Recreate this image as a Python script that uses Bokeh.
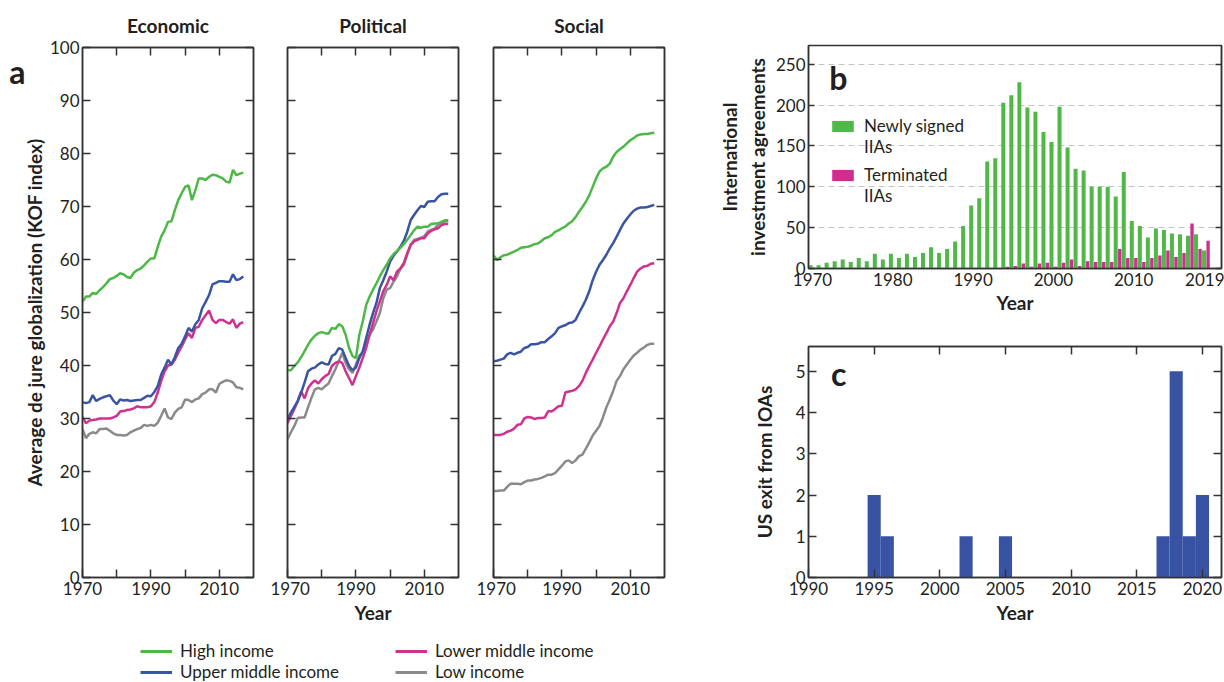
from bokeh.plotting import figure
from bokeh.models import (Range1d, LinearAxis, FixedTicker, Legend, LegendItem, Grid, Label,
                          ColumnDataSource, CustomJSTickFormatter, GlobalInlineStyleSheet)
from bokeh.layouts import row, column
from bokeh.transform import dodge
from bokeh.embed import file_html
from bokeh.resources import INLINE

# ---------------- data ----------------
years_a = list(range(1970, 2018))

econ_high = [52.0, 53.0, 53.0, 53.7, 53.5, 54.2, 54.8, 55.5, 56.3, 56.5,
             56.9, 57.4, 57.2, 56.7, 56.5, 57.5, 58.0, 58.3, 58.9, 59.6,
             60.2, 60.2, 62.4, 64.3, 65.5, 67.1, 67.2, 69.3, 71.2, 72.5,
             73.7, 74.0, 71.2, 73.1, 75.3, 75.3, 75.0, 75.6, 76.0, 75.9,
             75.6, 75.3, 74.7, 74.5, 76.9, 75.9, 76.2, 76.4]
econ_upper = [33.1, 32.9, 33.1, 34.4, 33.3, 33.7, 34.0, 34.2, 34.4, 33.4,
              32.7, 33.6, 33.4, 33.5, 33.3, 33.4, 33.5, 33.5, 33.9, 34.3,
              34.2, 35.0, 36.1, 38.3, 39.6, 41.1, 40.2, 41.6, 43.3, 44.1,
              45.5, 47.1, 46.4, 47.8, 48.6, 50.8, 52.0, 53.3, 55.3, 55.6,
              55.9, 55.9, 55.8, 55.8, 57.2, 56.1, 56.3, 56.8]
econ_lower = [30.3, 29.1, 29.6, 29.7, 29.8, 30.0, 30.0, 30.0, 30.0, 30.2,
              30.5, 31.3, 31.4, 31.6, 31.7, 31.9, 32.3, 32.1, 32.1, 32.1,
              32.3, 33.1, 34.9, 37.1, 38.9, 40.0, 40.2, 41.1, 42.4, 43.6,
              44.9, 46.1, 45.2, 47.1, 47.3, 48.6, 49.5, 50.4, 48.6, 48.0,
              48.6, 48.6, 48.2, 47.9, 48.7, 47.1, 47.9, 48.2]
econ_low = [28.0, 26.3, 27.1, 27.4, 27.2, 28.0, 28.0, 28.1, 27.7, 27.2,
            26.9, 26.9, 26.8, 26.9, 27.4, 27.7, 28.0, 28.2, 28.8, 28.6,
            28.8, 28.6, 29.2, 30.5, 31.9, 30.2, 29.9, 31.1, 31.8, 32.1,
            33.6, 33.5, 33.1, 33.6, 33.8, 34.6, 34.9, 35.5, 35.5, 34.9,
            36.5, 36.9, 37.2, 37.1, 36.8, 35.9, 35.8, 35.5]

pol_high = [39.1, 39.1, 39.9, 40.6, 41.6, 42.7, 43.9, 44.9, 45.6, 46.1,
            46.3, 46.1, 46.0, 47.1, 46.9, 47.8, 47.4, 45.8, 43.3, 41.8,
            41.4, 45.8, 48.3, 51.4, 53.0, 54.3, 55.5, 56.8, 58.0, 59.0,
            60.2, 61.0, 61.6, 62.2, 62.9, 63.7, 64.6, 65.5, 66.2, 66.0,
            66.2, 66.2, 66.7, 66.8, 66.8, 67.1, 67.4, 67.4]
pol_upper = [29.9, 31.1, 32.2, 33.3, 34.9, 36.8, 38.9, 39.4, 39.6, 40.2,
             40.6, 40.3, 40.2, 41.8, 42.2, 43.3, 43.0, 41.4, 39.9, 39.1,
             39.6, 41.4, 42.7, 45.2, 47.7, 49.9, 51.8, 54.6, 56.1, 57.7,
             59.6, 60.7, 61.5, 62.4, 63.5, 65.2, 67.4, 68.4, 69.3, 70.1,
             69.9, 70.9, 71.0, 71.0, 71.8, 72.3, 72.4, 72.4]
pol_lower = [29.1, 30.5, 31.8, 33.3, 35.1, 33.8, 35.7, 36.6, 37.2, 36.6,
             37.4, 38.0, 38.4, 39.9, 40.5, 40.8, 40.5, 38.9, 37.6, 36.3,
             38.0, 39.6, 41.4, 43.3, 45.8, 48.0, 50.2, 52.1, 54.0, 55.2,
             56.8, 56.1, 57.7, 58.3, 59.3, 61.2, 62.7, 63.4, 63.7, 64.0,
             64.0, 64.9, 65.4, 65.7, 65.9, 66.5, 66.7, 66.7]
pol_low = [26.1, 27.4, 28.6, 30.1, 30.2, 30.2, 32.1, 33.9, 35.5, 35.8,
           35.5, 36.1, 36.6, 38.0, 39.3, 40.8, 42.4, 40.5, 39.3, 38.6,
           40.2, 41.9, 42.4, 43.9, 45.8, 46.8, 48.3, 49.9, 52.7, 54.3,
           54.6, 55.8, 56.8, 58.2, 59.0, 60.9, 62.8, 63.7, 63.9, 64.1,
           64.4, 65.3, 65.6, 65.8, 66.6, 66.9, 67.2, 67.2]

soc_high = [60.8, 59.9, 60.4, 60.8, 60.9, 61.2, 61.5, 61.8, 62.2, 62.3,
            62.4, 62.6, 62.9, 63.0, 63.5, 64.0, 64.2, 64.6, 65.2, 65.5,
            65.9, 66.2, 66.8, 67.2, 68.0, 69.0, 69.9, 70.9, 72.1, 73.7,
            75.3, 76.6, 77.2, 77.5, 78.1, 79.4, 80.3, 80.8, 81.3, 81.9,
            82.5, 82.9, 83.4, 83.6, 83.7, 83.7, 83.8, 83.9]
soc_upper = [40.8, 40.9, 41.1, 41.3, 42.1, 42.4, 42.1, 42.4, 42.6, 43.3,
             43.5, 44.0, 44.0, 44.1, 44.4, 44.4, 45.0, 45.5, 46.1, 47.1,
             47.4, 47.6, 48.0, 48.1, 48.6, 49.9, 51.1, 52.4, 54.0, 56.1,
             57.7, 59.0, 59.9, 60.9, 62.1, 63.1, 64.3, 65.6, 66.8, 67.7,
             68.5, 69.2, 69.6, 69.8, 69.8, 69.9, 70.1, 70.3]
soc_lower = [26.9, 26.9, 26.9, 27.1, 27.5, 27.7, 28.1, 28.8, 28.9, 30.0,
             30.3, 30.2, 29.9, 30.1, 30.1, 30.2, 31.4, 31.3, 31.8, 32.3,
             32.4, 34.9, 35.1, 35.2, 35.5, 36.1, 37.1, 38.6, 39.9, 41.1,
             42.4, 43.6, 44.9, 46.1, 47.4, 48.3, 49.9, 51.8, 52.7, 54.0,
             55.2, 56.5, 57.7, 58.3, 58.7, 58.8, 59.2, 59.3]
soc_low = [16.3, 16.3, 16.4, 16.4, 17.1, 17.7, 17.7, 17.7, 17.6, 18.0,
           18.3, 18.3, 18.5, 18.6, 18.8, 19.1, 19.4, 19.4, 19.7, 20.4,
           21.1, 21.9, 22.1, 21.6, 22.1, 22.9, 23.2, 24.3, 25.5, 26.8,
           27.7, 28.6, 30.2, 32.1, 33.6, 35.2, 37.1, 38.0, 39.3, 40.2,
           41.1, 41.9, 42.4, 43.0, 43.4, 43.9, 44.1, 44.1]

income_groups = ["High income", "Upper middle income", "Lower middle income", "Low income"]

years_b = list(range(1970, 2020))
newly_signed = [4, 4, 7, 9, 11, 8, 13, 9, 18, 11,
                18, 13, 18, 14, 19, 26, 19, 24, 33, 52,
                77, 86, 131, 135, 203, 212, 228, 197, 192, 167,
                155, 198, 148, 122, 120, 100, 100, 100, 88, 118,
                58, 52, 38, 49, 47, 43, 42, 40, 42, 22]
terminated = [0, 0, 0, 0, 0, 0, 0, 0, 0, 0,
              0, 0, 0, 0, 0, 0, 0, 0, 0, 0,
              0, 0, 0, 0, 2, 3, 6, 2, 6, 7,
              2, 7, 11, 3, 9, 8, 8, 8, 24, 13,
              13, 8, 13, 16, 22, 14, 19, 55, 24, 34]
b_ticks = [1970, 1980, 1990, 2000, 2010, 2019]

years_c = [1995, 1996, 2002, 2005, 2017, 2018, 2019, 2020]
us_exits = [2, 1, 1, 1, 1, 5, 1, 2]

# ---------------- style ----------------
FONT = "Lato"
TXT = "#231f20"
AXC = "#333333"
C_HIGH = "#4db848"
C_UPPER = "#3a54a4"
C_LOWER = "#d0308e"
C_LOW = "#8a8a8a"
BAR_GREEN = "#50b848"
BAR_PINK = "#cc2f90"
BAR_BLUE = "#3953a4"


def style_axis(ax, labels=True, tick_in=8, standoff=3):
    ax.axis_line_color = AXC
    ax.axis_line_width = 1.5
    ax.major_tick_line_color = AXC
    ax.major_tick_line_width = 1.5
    ax.major_tick_in = tick_in
    ax.major_tick_out = 0
    ax.minor_tick_line_color = AXC
    ax.minor_tick_line_width = 1.5
    ax.minor_tick_in = tick_in
    ax.minor_tick_out = 0
    ax.major_label_text_font = FONT
    ax.axis_label_text_font = FONT
    ax.axis_label_text_font_style = "bold"
    ax.axis_label_text_font_size = "19px"
    ax.axis_label_text_color = TXT
    if labels:
        ax.major_label_text_color = TXT
        ax.major_label_text_font_size = "17px"
        ax.major_label_standoff = standoff
    else:
        ax.major_label_text_color = None
        ax.major_label_text_alpha = 0
        ax.major_label_text_font_size = "0px"
        ax.major_label_standoff = 0
    return ax


ROW_H = 630
A_TOP = 46
A_FRAME = 531
A_BOTTOM = ROW_H - A_TOP - A_FRAME
B_H = 318


def make_a(title, series, width, mbl, mbr, ylabels, xlabel=None):
    p = figure(width=width, height=ROW_H, x_range=Range1d(1970, 2020), y_range=Range1d(0, 100),
               x_axis_location=None, y_axis_location=None, output_backend="svg",
               toolbar_location=None, min_border_left=mbl, min_border_right=mbr,
               min_border_top=A_TOP, min_border_bottom=A_BOTTOM, title=title)
    p.grid.visible = False
    p.outline_line_color = AXC
    p.outline_line_width = 1.5
    p.title.text_font = FONT
    p.title.text_font_style = "bold"
    p.title.text_font_size = "19px"
    p.title.text_color = TXT
    p.title.align = "center"
    p.title.standoff = 22

    bottom = style_axis(LinearAxis(ticker=FixedTicker(ticks=[1970, 1990, 2010],
                                                      minor_ticks=[1980, 2000])), standoff=4)
    if xlabel:
        bottom.axis_label = xlabel
        bottom.axis_label_standoff = 3
    top = style_axis(LinearAxis(ticker=FixedTicker(ticks=[1980, 1990, 2000, 2010])), labels=False)
    left = style_axis(LinearAxis(ticker=FixedTicker(ticks=list(range(0, 101, 10)))),
                      labels=ylabels)
    right = style_axis(LinearAxis(ticker=FixedTicker(ticks=list(range(0, 101, 10)))),
                       labels=False)
    p.add_layout(bottom, "below")
    p.add_layout(top, "above")
    p.add_layout(left, "left")
    p.add_layout(right, "right")
    if ylabels:
        left.axis_label = "Average de jure globalization (KOF index)"
        left.axis_label_standoff = 1
        letter = LinearAxis(ticker=FixedTicker(ticks=[95.4]),
                            formatter=CustomJSTickFormatter(code="return 'a'"))
        letter.axis_line_color = None
        letter.major_tick_line_color = None
        letter.major_tick_in = 0
        letter.major_tick_out = 0
        letter.major_label_standoff = -6
        letter.major_label_text_font = FONT
        letter.major_label_text_font_style = "bold"
        letter.major_label_text_font_size = "32px"
        letter.major_label_text_color = TXT
        p.add_layout(letter, "left")

    for vals, col in zip(series[::-1], [C_LOW, C_LOWER, C_UPPER, C_HIGH]):
        p.line(years_a, vals, line_color=col, line_width=2.5)
    return p


f1 = make_a("Economic", [econ_high, econ_upper, econ_lower, econ_low], 270, 82, 17, True)
f2 = make_a("Political", [pol_high, pol_upper, pol_lower, pol_low], 206, 17, 18, False, "Year")
f3 = make_a("Social", [soc_high, soc_upper, soc_lower, soc_low], 224, 17, 36, False)

# ---------------- panel b ----------------
RW = 524
src_b = ColumnDataSource(dict(year=years_b, newly=newly_signed, term=terminated))
pb = figure(width=RW, height=B_H, x_range=Range1d(1969.5, 2020.93), y_range=Range1d(0, 273),
            x_axis_location=None, y_axis_location=None, output_backend="svg",
            toolbar_location=None, min_border_left=108, min_border_right=3,
            min_border_top=45, min_border_bottom=B_H - 45 - 223)
pb.grid.visible = False
pb.outline_line_color = AXC
pb.outline_line_width = 1.5
pb.add_layout(Grid(dimension=1, ticker=FixedTicker(ticks=[50, 100, 150, 200, 250]),
                   grid_line_color="#c4c4c4", grid_line_dash="6 4", grid_line_width=1.2))
bb = style_axis(LinearAxis(ticker=FixedTicker(ticks=b_ticks)), tick_in=0, standoff=4)
bb.axis_label = "Year"
bb.axis_label_standoff = 2
lb = style_axis(LinearAxis(ticker=FixedTicker(ticks=[0, 50, 100, 150, 200, 250])), tick_in=6)
lb.axis_label = "International\ninvestment agreements"
lb.axis_label_standoff = 4
rb = style_axis(LinearAxis(ticker=FixedTicker(ticks=[0, 50, 100, 150, 200, 250])),
                labels=False, tick_in=6)
pb.add_layout(bb, "below")
pb.add_layout(lb, "left")
pb.add_layout(rb, "right")

r_new = pb.vbar(x=dodge("year", -0.24), top="newly", width=0.5, source=src_b,
                fill_color=BAR_GREEN, line_color=None)
r_term = pb.vbar(x=dodge("year", 0.26), top="term", width=0.42, source=src_b,
                 fill_color=BAR_PINK, line_color=None)
r_blank = pb.vbar(x=dodge("year", 0.0), top="newly", width=0.5, source=src_b,
                  fill_alpha=0, line_alpha=0)

for items, loc in [([LegendItem(label="Newly signed", renderers=[r_new]),
                     LegendItem(label="IIAs", renderers=[r_blank])], (21, 111)),
                   ([LegendItem(label="Terminated", renderers=[r_term]),
                     LegendItem(label="IIAs", renderers=[r_blank])], (21, 62))]:
    lg = Legend(items=items, location=loc, padding=0, margin=0, spacing=0,
                border_line_alpha=0, background_fill_alpha=0, glyph_width=27, glyph_height=14,
                label_height=19, label_standoff=8, label_text_font=FONT,
                label_text_font_size="17px", label_text_color=TXT)
    pb.add_layout(lg)

pb.add_layout(Label(x=1973.2, y=233.7, text="b", text_font=FONT, text_font_style="bold",
                    text_font_size="32px", text_color=TXT, text_align="center",
                    text_baseline="middle"))

# ---------------- panel c ----------------
C_H = ROW_H - B_H
pc = figure(width=RW, height=C_H, x_range=Range1d(1990, 2021.45), y_range=Range1d(0, 5.6),
            x_axis_location=None, y_axis_location=None, output_backend="svg",
            toolbar_location=None, min_border_left=108, min_border_right=3,
            min_border_top=28, min_border_bottom=A_BOTTOM)
pc.grid.visible = False
pc.outline_line_color = AXC
pc.outline_line_width = 1.5
bc = style_axis(LinearAxis(ticker=FixedTicker(ticks=list(range(1990, 2021, 5)))), standoff=4)
bc.axis_label = "Year"
bc.axis_label_standoff = 3
tc = style_axis(LinearAxis(ticker=FixedTicker(ticks=list(range(1995, 2021, 5)))), labels=False)
lc = style_axis(LinearAxis(ticker=FixedTicker(ticks=[0, 1, 2, 3, 4, 5])), tick_in=8)
lc.axis_label = "US exit from IOAs"
lc.axis_label_standoff = 17
rc = style_axis(LinearAxis(ticker=FixedTicker(ticks=[0, 1, 2, 3, 4, 5])), labels=False)
pc.add_layout(bc, "below")
pc.add_layout(tc, "above")
pc.add_layout(lc, "left")
pc.add_layout(rc, "right")
pc.vbar(x=years_c, top=us_exits, width=1.0, fill_color=BAR_BLUE, line_color=None)
pc.add_layout(Label(x=1992.3, y=4.95, text="c", text_font=FONT, text_font_style="bold",
                    text_font_size="32px", text_color=TXT, text_align="center",
                    text_baseline="middle"))

# ---------------- legend for panel a ----------------
pl = figure(width=700, height=682 - ROW_H, x_range=Range1d(0, 1), y_range=Range1d(0, 1),
            x_axis_location=None, y_axis_location=None, output_backend="svg",
            toolbar_location=None, min_border=0)
pl.grid.visible = False
pl.outline_line_color = None
dummies = [pl.line(years_a, vals, line_color=c, line_width=3)
           for vals, c in zip([econ_high, econ_upper, econ_lower, econ_low],
                              [C_HIGH, C_UPPER, C_LOWER, C_LOW])]
for idx, loc in [((0, 1), (140, 0)), ((2, 3), (395, 0))]:
    lg = Legend(items=[LegendItem(label=income_groups[i], renderers=[dummies[i]]) for i in idx],
                location=loc, padding=0, margin=0, spacing=0, border_line_alpha=0,
                background_fill_alpha=0, glyph_width=32, glyph_height=14, label_height=20,
                label_standoff=8, label_text_font=FONT, label_text_font_size="17px",
                label_text_color=TXT)
    pl.add_layout(lg)

layout = column(row(f1, f2, f3, column(pb, pc)), pl)
layout.stylesheets = [GlobalInlineStyleSheet(css="html, body { overflow: hidden !important; }")]
open("out.html", "w").write(file_html(layout, INLINE))
